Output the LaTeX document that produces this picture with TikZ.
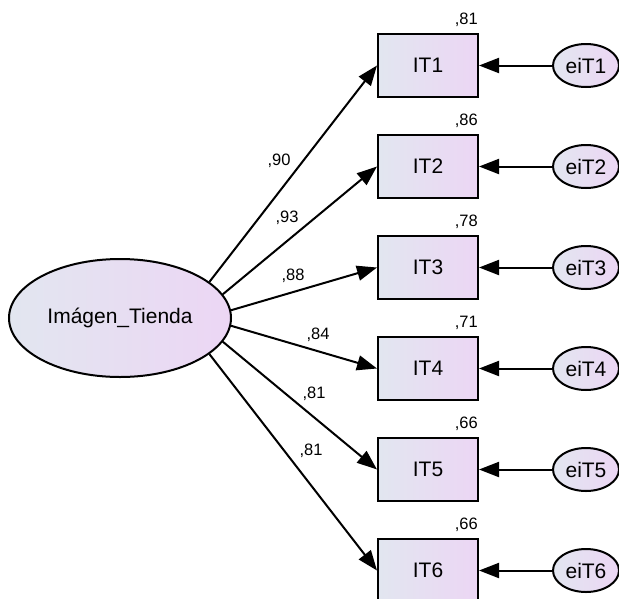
\documentclass[tikz,border=0pt]{standalone}
\usepackage{fontspec}
\setmainfont{Liberation Sans}
\usetikzlibrary{arrows.meta,shapes.geometric}
\definecolor{fillA}{RGB}{226,230,240}
\definecolor{fillB}{RGB}{236,214,244}
\tikzset{
  obsbox/.style={draw=black,line width=2pt,rectangle,minimum width=100pt,minimum height=63pt,inner sep=0pt,
    left color=fillA,right color=fillB,font=\fontsize{21}{24}\selectfont},
  latent/.style={draw=black,line width=2pt,ellipse,minimum width=222pt,minimum height=118pt,inner sep=0pt,
    left color=fillA,right color=fillB,font=\fontsize{21}{24}\selectfont},
  errell/.style={draw=black,line width=2pt,ellipse,minimum width=66pt,minimum height=43pt,inner sep=0pt,
    left color=fillA,right color=fillB,font=\fontsize{21}{24}\selectfont},
  conn/.style={line width=2pt,-{Triangle[length=20pt,width=15pt]}},
  coef/.style={font=\fontsize{16.5}{19}\selectfont,inner sep=0pt},
  rsq/.style={font=\fontsize{16.5}{19}\selectfont,inner sep=0pt,anchor=east}
}
\begin{document}
\begin{tikzpicture}[x=1pt,y=-1pt]
\useasboundingbox (0,0) rectangle (619,598);
\node[latent] (L) at (120,318) {Imágen\_Tienda};
\foreach \i/\y/\r in {1/65.5/{,81},2/166.5/{,86},3/267.5/{,78},4/368.5/{,71},5/469.5/{,66},6/570.5/{,66}}{
  \node[obsbox] (IT\i) at (428,\y) {IT\i};
  \node[errell] (e\i) at (586,\y) {eiT\i};
  \node[rsq] (r\i) at (478,\y-46) {\r};
  \draw[conn] (e\i) -- (IT\i);
}
\draw[conn] (L.22) -- (IT1.west);
\draw[conn] (L.13.5) -- (IT2.west);
\draw[conn] (L.4.5) -- (IT3.west);
\draw[conn] (L.-4.5) -- (IT4.west);
\draw[conn] (L.-13.5) -- (IT5.west);
\draw[conn] (L.-22) -- (IT6.west);
\node[coef] (c1) at (279,161) {,90};
\node[coef] (c2) at (287,218) {,93};
\node[coef] (c3) at (293,276) {,88};
\node[coef] (c4) at (318,335) {,84};
\node[coef] (c5) at (314,394) {,81};
\node[coef] (c6) at (311,451) {,81};
\end{tikzpicture}
\end{document}
